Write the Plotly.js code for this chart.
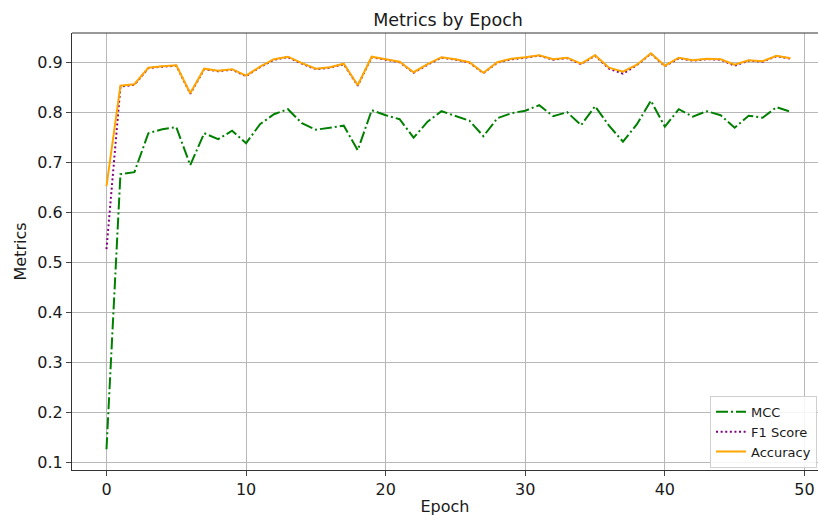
<!DOCTYPE html>
<html>
<head>
<meta charset="utf-8">
<script src="https://cdn.plot.ly/plotly-3.0.1.min.js"></script>
<style>html,body{margin:0;padding:0;background:#fff;}#chart{width:818px;height:516px;}</style>
</head>
<body>
<div id="chart"></div>
<script>
const epochs = Array.from({length: 50}, (_, i) => i);
const mcc = [0.127, 0.677, 0.681, 0.759, 0.767, 0.771, 0.695, 0.759, 0.747, 0.764,
             0.739, 0.777, 0.797, 0.807, 0.779, 0.766, 0.770, 0.774, 0.725, 0.805,
             0.795, 0.787, 0.750, 0.782, 0.803, 0.794, 0.784, 0.753, 0.789, 0.799,
             0.804, 0.815, 0.793, 0.801, 0.775, 0.813, 0.774, 0.742, 0.777, 0.824,
             0.772, 0.807, 0.792, 0.803, 0.795, 0.770, 0.794, 0.790, 0.811, 0.802];
const f1 = [0.527, 0.852, 0.856, 0.889, 0.892, 0.894, 0.838, 0.887, 0.883, 0.886,
            0.873, 0.891, 0.906, 0.911, 0.898, 0.887, 0.890, 0.897, 0.854, 0.911,
            0.906, 0.901, 0.880, 0.896, 0.910, 0.906, 0.900, 0.879, 0.900, 0.907,
            0.910, 0.914, 0.906, 0.909, 0.897, 0.914, 0.888, 0.878, 0.895, 0.918,
            0.893, 0.909, 0.904, 0.907, 0.906, 0.894, 0.904, 0.902, 0.913, 0.908];
const accuracy = [0.653, 0.854, 0.857, 0.890, 0.893, 0.895, 0.839, 0.888, 0.884, 0.887,
                  0.874, 0.892, 0.907, 0.912, 0.899, 0.888, 0.891, 0.898, 0.855, 0.912,
                  0.907, 0.902, 0.881, 0.897, 0.911, 0.907, 0.901, 0.880, 0.901, 0.908,
                  0.911, 0.915, 0.907, 0.910, 0.898, 0.915, 0.890, 0.882, 0.896, 0.919,
                  0.894, 0.910, 0.905, 0.908, 0.907, 0.896, 0.905, 0.903, 0.914, 0.909];
const xTicks = [0, 10, 20, 30, 40, 50];
const yTicks = [0.1, 0.2, 0.3, 0.4, 0.5, 0.6, 0.7, 0.8, 0.9];
const yTickText = ['0.1', '0.2', '0.3', '0.4', '0.5', '0.6', '0.7', '0.8', '0.9'];

const font = 'DejaVu Sans, sans-serif';
const traces = [
  {x: epochs, y: mcc, name: 'MCC', mode: 'lines',
   line: {color: '#008000', width: 2, dash: '12px,3px,2px,3px'}},
  {x: epochs, y: f1, name: 'F1 Score', mode: 'lines',
   line: {color: '#800080', width: 2, dash: '2px,2.6px'}},
  {x: epochs, y: accuracy, name: 'Accuracy', mode: 'lines',
   line: {color: '#FFA500', width: 2}}
];
const layout = {
  width: 818, height: 516,
  margin: {l: 72, r: 0, t: 33, b: 46},
  paper_bgcolor: '#fff', plot_bgcolor: '#fff',
  font: {family: font, color: '#1a1a1a', size: 16},
  title: {text: 'Metrics by Epoch', font: {family: font, size: 17.5, color: '#1a1a1a'},
          x: 448 / 818, xref: 'container', xanchor: 'center', y: 1 - 20 / 516, yref: 'container', yanchor: 'middle'},
  xaxis: {range: [-2.47, 50.97], tickvals: xTicks, ticktext: xTicks.map(String),
          showgrid: true, gridcolor: '#b8b8b8', gridwidth: 1, zeroline: false,
          showline: true, linecolor: '#333', linewidth: 1, mirror: false,
          ticks: 'outside', ticklen: 5, tickcolor: '#444', tickwidth: 1,
          tickfont: {size: 16, family: font, color: '#1a1a1a'},
          title: {text: 'Epoch', font: {size: 16, family: font, color: '#1a1a1a'}, standoff: 3}},
  yaxis: {range: [0.0854, 0.9594], tickvals: yTicks, ticktext: yTickText,
          showgrid: true, gridcolor: '#b8b8b8', gridwidth: 1, zeroline: false,
          showline: true, linecolor: '#333', linewidth: 1, mirror: false,
          ticks: 'outside', ticklen: 5, tickcolor: '#444', tickwidth: 1,
          tickfont: {size: 16, family: font, color: '#1a1a1a'},
          title: {text: 'Metrics', font: {size: 16, family: font, color: '#1a1a1a'}, standoff: 6}},
  shapes: [{type: 'line', xref: 'paper', yref: 'paper', x0: 0, x1: 1, y0: 1, y1: 1,
            line: {color: '#333', width: 1}}],
  legend: {x: 0.9987, xanchor: 'right', y: 0.005, yanchor: 'bottom',
           bgcolor: 'rgba(255,255,255,0.85)', bordercolor: '#d0d0d0', borderwidth: 1,
           font: {size: 13, family: font, color: '#1a1a1a'}},
  showlegend: true
};
Plotly.newPlot('chart', traces, layout, {displayModeBar: false, staticPlot: true});
</script>
</body>
</html>
